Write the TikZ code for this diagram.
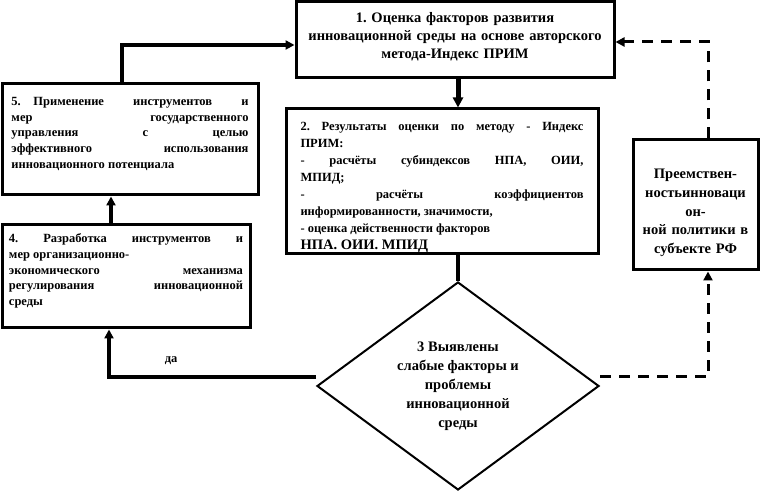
\documentclass[tikz,border=0pt]{standalone}
\usepackage{fontspec}
\setmainfont{Liberation Serif}
\usetikzlibrary{arrows.meta,shapes.geometric}
\frenchspacing
% moves the text of a block up (positive) or down (negative) by half the length
\newcommand\tailskip[1]{\par\vspace{#1}\hrule height 0pt}

\begin{document}
\begin{tikzpicture}[x=1pt,y=1pt,
    box/.style={draw,line width=3pt,inner sep=0pt},
    conn/.style={line width=4pt,-{Triangle[length=9pt,width=9pt]}},
    dconn/.style={line width=3pt,dash pattern=on 11pt off 8pt,-{Triangle[length=9pt,width=9pt]}}]
    \useasboundingbox (0,0) rectangle (768,494);

    % Blocks:
    % Each block is a framed node placed at its centre; \linebreak gives a justified line,
    % \\ a ragged one
    \node [box,minimum width=318pt,minimum height=76pt,text width=306pt,align=center,
        font=\bfseries\fontsize{14.5}{18}\selectfont] (b1) at (455,454)
        {1. Оценка факторов развития\\инновационной среды на основе авторского\\метода-Индекс ПРИМ\tailskip{6pt}};
    \node [box,minimum width=312pt,minimum height=145pt,text width=283pt,align=justify,
        font=\bfseries\fontsize{12.5}{17}\selectfont] (b2) at (442,312.5)
        {2. Результаты оценки по методу - Индекс\linebreak
         ПРИМ:\\
         - расчёты субиндексов НПА, ОИИ,\linebreak
         МПИД;\\
         - расчёты коэффициентов\linebreak
         информированности, значимости,\\
         - оценка действенности факторов\\
         {\fontsize{14.5}{17}\selectfont НПА. ОИИ. МПИД}\tailskip{-12pt}};
    \node [box,minimum width=256pt,minimum height=111pt,text width=237pt,align=justify,
        font=\bfseries\fontsize{12.5}{15.75}\selectfont] (b5) at (130,354.5)
        {5.\quad Применение инструментов и\linebreak
         мер государственного\linebreak
         управления с целью\linebreak
         эффективного использования\linebreak
         инновационного потенциала\tailskip{11pt}};
    \node [box,minimum width=248pt,minimum height=103pt,text width=234pt,align=justify,
        font=\bfseries\fontsize{12.5}{15.75}\selectfont] (b4) at (126,217.5)
        {4. Разработка инструментов и\linebreak
         мер организационно-\\
         экономического механизма\linebreak
         регулирования инновационной\linebreak
         среды\tailskip{11pt}};
    \node [box,minimum width=125pt,minimum height=130pt,text width=119pt,align=center,
        font=\bfseries\fontsize{14.5}{18.75}\selectfont] (b6) at (695.5,289)
        {Преемствен-\\ностьинноваци\\он-\\ной политики в\\субъекте РФ\tailskip{-16pt}};

    % Decision:
    \node [draw,diamond,line width=2pt,inner sep=0pt,shape aspect=1.36,
        minimum width=282pt,minimum height=208pt,align=center,
        font=\bfseries\fontsize{14.5}{19}\selectfont] (d3) at (458,108)
        {3 Выявлены\\слабые факторы и\\проблемы\\инновационной\\среды};

    % Connectors:
    \draw [line width=5pt,-{Triangle[length=10pt,width=10pt]}] (b1.south -| d3.north) -- (b2.north -| d3.north);
    \draw [line width=4pt] (b2.south -| d3.north) -- (d3.north);
    \draw [conn] ([yshift=9pt]d3.west) -| ([xshift=-17pt]b4.south)
        node [pos=0.35,above=7pt,font=\bfseries\fontsize{12.5}{15}\selectfont] (yes) {да};
    \draw [conn] ([xshift=-15pt]b4.north) -- ([xshift=-15pt]b4.north |- b5.south);
    \draw [conn,line width=3.5pt] ([xshift=-8pt]b5.north) |- ([yshift=-5pt]b1.west);

    % Dashed feedback through block 6
    \draw [dconn] ([yshift=9pt]d3.east) -| ([xshift=12.5pt]b6.south);
    \draw [dconn] ([xshift=12.5pt]b6.north) |- ([yshift=-2pt]b1.east);
\end{tikzpicture}
\end{document}
